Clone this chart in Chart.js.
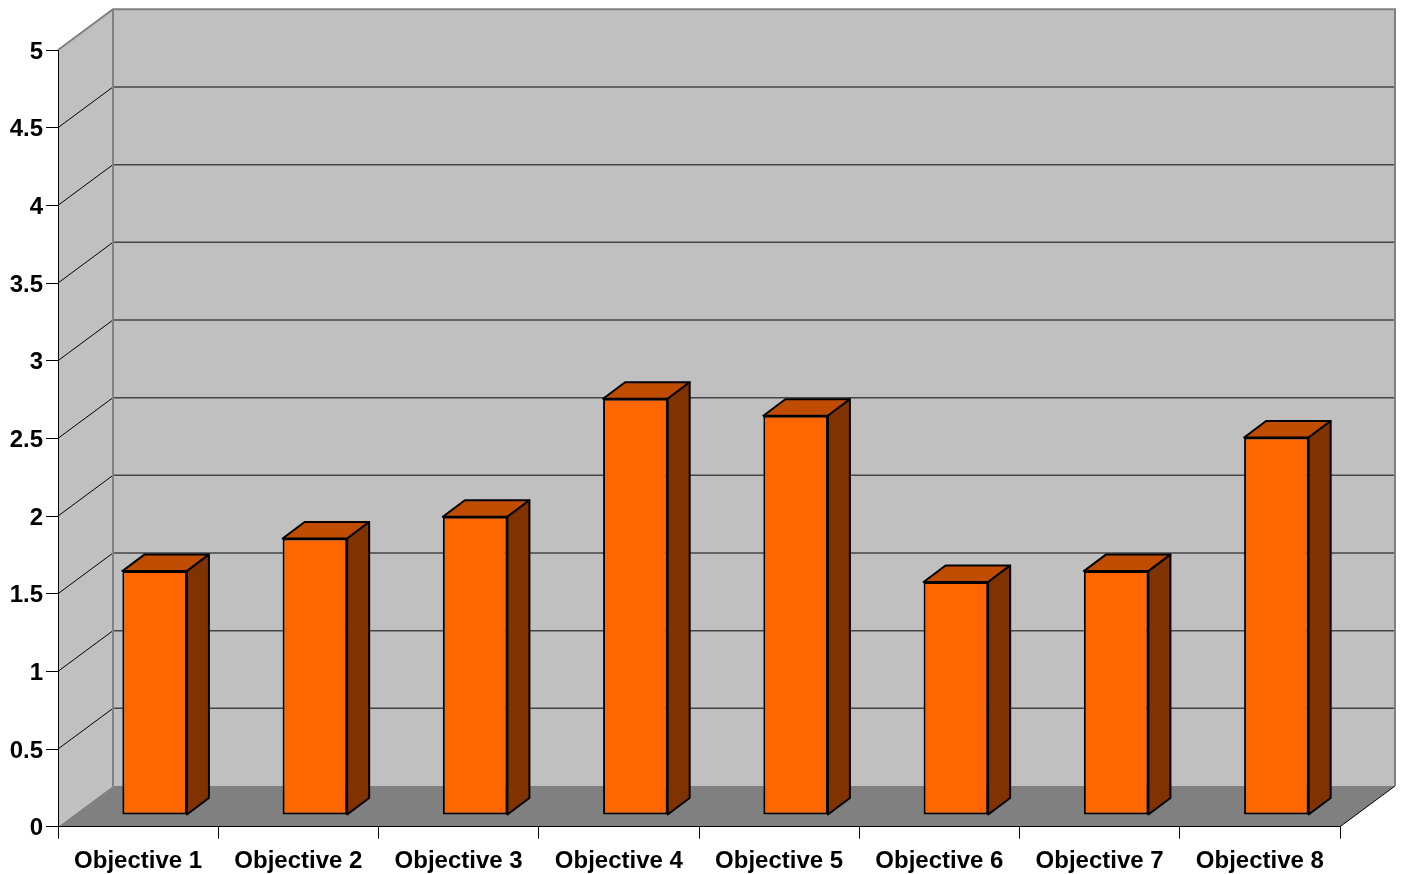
<!DOCTYPE html>
<html>
<head>
<meta charset="utf-8">
<script src="https://cdn.jsdelivr.net/npm/chart.js@4"></script>
<style>
    body { margin: 0; background: #ffffff; }
    #wrap { width: 1401px; height: 874px; }
</style>
</head>
<body>
<div id="wrap"><canvas id="objectives-chart"></canvas></div>
<script>
// Chart data
const categories = ['Objective 1', 'Objective 2', 'Objective 3', 'Objective 4',
    'Objective 5', 'Objective 6', 'Objective 7', 'Objective 8'];
const scores = [1.57, 1.78, 1.92, 2.68, 2.57, 1.5, 1.57, 2.43];
const yTickLabels = ['0', '0.5', '1', '1.5', '2', '2.5', '3', '3.5', '4', '4.5', '5'];

// Fake 3D look: depth of the walls and of the bars
const WALL_DX = 55, WALL_DY = -40.7;
const BAR_SHIFT_X = 16.5, BAR_SHIFT_Y = -11.7;
const BAR_DX = 22, BAR_DY = -16.5;

const labelFont = { family: '"Liberation Sans", Arial, sans-serif', size: 24, weight: 'bold' };

// Draws the side wall, back wall, floor and their grid lines under everything else
const wallsPlugin = {
    id: 'walls',
    beforeDraw(chart) {
        const ctx = chart.ctx;
        const a = chart.chartArea;
        const y = chart.scales.y;
        ctx.save();

        // side wall
        ctx.fillStyle = '#c0c0c0';
        ctx.beginPath();
        ctx.moveTo(a.left, a.top);
        ctx.lineTo(a.left + WALL_DX, a.top + WALL_DY);
        ctx.lineTo(a.left + WALL_DX, a.bottom + WALL_DY);
        ctx.lineTo(a.left, a.bottom);
        ctx.closePath();
        ctx.fill();

        // back wall
        ctx.fillRect(a.left + WALL_DX, a.top + WALL_DY, a.right - a.left, a.bottom - a.top);

        // grid lines on both walls
        y.ticks.forEach(t => {
            if (t.value <= 0 || t.value >= 5) return;
            const py = y.getPixelForValue(t.value);
            ctx.strokeStyle = '#000000';
            ctx.lineWidth = 1;
            ctx.beginPath();
            ctx.moveTo(a.left, py);
            ctx.lineTo(a.left + WALL_DX, py + WALL_DY);
            ctx.stroke();
            ctx.strokeStyle = '#444444';
            ctx.lineWidth = 1.5;
            ctx.beginPath();
            ctx.moveTo(a.left + WALL_DX, py + WALL_DY);
            ctx.lineTo(a.right + WALL_DX, py + WALL_DY);
            ctx.stroke();
        });

        // floor
        ctx.fillStyle = '#808080';
        ctx.beginPath();
        ctx.moveTo(a.left, a.bottom);
        ctx.lineTo(a.right, a.bottom);
        ctx.lineTo(a.right + WALL_DX, a.bottom + WALL_DY);
        ctx.lineTo(a.left + WALL_DX, a.bottom + WALL_DY);
        ctx.closePath();
        ctx.fill();
        ctx.strokeStyle = '#000000';
        ctx.lineWidth = 1;
        ctx.beginPath();
        ctx.moveTo(a.right, a.bottom);
        ctx.lineTo(a.right + WALL_DX, a.bottom + WALL_DY);
        ctx.stroke();

        // wall outlines
        ctx.strokeStyle = '#808080';
        ctx.lineWidth = 2;
        ctx.beginPath();
        ctx.moveTo(a.left, a.top);
        ctx.lineTo(a.left + WALL_DX, a.top + WALL_DY);
        ctx.lineTo(a.right + WALL_DX, a.top + WALL_DY);
        ctx.lineTo(a.right + WALL_DX, a.bottom + WALL_DY);
        ctx.moveTo(a.left + WALL_DX, a.top + WALL_DY);
        ctx.lineTo(a.left + WALL_DX, a.bottom + WALL_DY);
        ctx.stroke();

        ctx.restore();
    }
};

// Shifts the bars into the box and adds their top and side faces
const bars3dPlugin = {
    id: 'bars3d',
    beforeDatasetsDraw(chart) {
        chart.ctx.save();
        chart.ctx.translate(BAR_SHIFT_X, BAR_SHIFT_Y);
    },
    afterDatasetsDraw(chart) {
        const ctx = chart.ctx;
        ctx.lineWidth = 2;
        ctx.lineJoin = 'round';
        ctx.strokeStyle = '#000000';
        chart.getDatasetMeta(0).data.forEach(bar => {
            const p = bar.getProps(['x', 'y', 'base', 'width'], true);
            const l = p.x - p.width / 2, r = p.x + p.width / 2;
            // top face
            ctx.fillStyle = '#c04c00';
            ctx.beginPath();
            ctx.moveTo(l, p.y);
            ctx.lineTo(l + BAR_DX, p.y + BAR_DY);
            ctx.lineTo(r + BAR_DX, p.y + BAR_DY);
            ctx.lineTo(r, p.y);
            ctx.closePath();
            ctx.fill();
            ctx.stroke();
            // side face
            ctx.fillStyle = '#803300';
            ctx.beginPath();
            ctx.moveTo(r, p.y);
            ctx.lineTo(r + BAR_DX, p.y + BAR_DY);
            ctx.lineTo(r + BAR_DX, p.base + BAR_DY);
            ctx.lineTo(r, p.base);
            ctx.closePath();
            ctx.fill();
            ctx.stroke();
        });
        ctx.restore();
    }
};

const ctx = document.getElementById('objectives-chart').getContext('2d');
new Chart(ctx, {
    type: 'bar',
    data: {
        labels: categories,
        datasets: [{
            data: scores,
            backgroundColor: '#ff6600',
            borderColor: '#000000',
            borderWidth: 2,
            borderSkipped: false,
            barPercentage: 1,
            categoryPercentage: 0.403
        }]
    },
    options: {
        responsive: true,
        maintainAspectRatio: false,
        animation: false,
        events: [],
        layout: { padding: { top: 50, right: 61, left: 0, bottom: 0 } },
        plugins: {
            legend: { display: false },
            tooltip: { enabled: false }
        },
        scales: {
            x: {
                afterFit: s => { s.height = 47.3; },
                grid: {
                    offset: true,
                    drawOnChartArea: false,
                    tickLength: 12,
                    color: '#000000'
                },
                border: { color: '#000000', width: 1 },
                ticks: {
                    color: '#000000',
                    font: labelFont,
                    padding: 8,
                    maxRotation: 0,
                    autoSkip: false
                }
            },
            y: {
                min: 0,
                max: 5,
                afterFit: s => { s.width = 58; },
                grid: {
                    drawOnChartArea: false,
                    tickLength: 12,
                    color: '#000000'
                },
                border: { color: '#000000', width: 1 },
                ticks: {
                    stepSize: 0.5,
                    color: '#000000',
                    font: labelFont,
                    padding: 3,
                    labelOffset: 2,
                    callback: (value, index) => yTickLabels[index]
                }
            }
        }
    },
    plugins: [wallsPlugin, bars3dPlugin]
});
</script>
</body>
</html>
